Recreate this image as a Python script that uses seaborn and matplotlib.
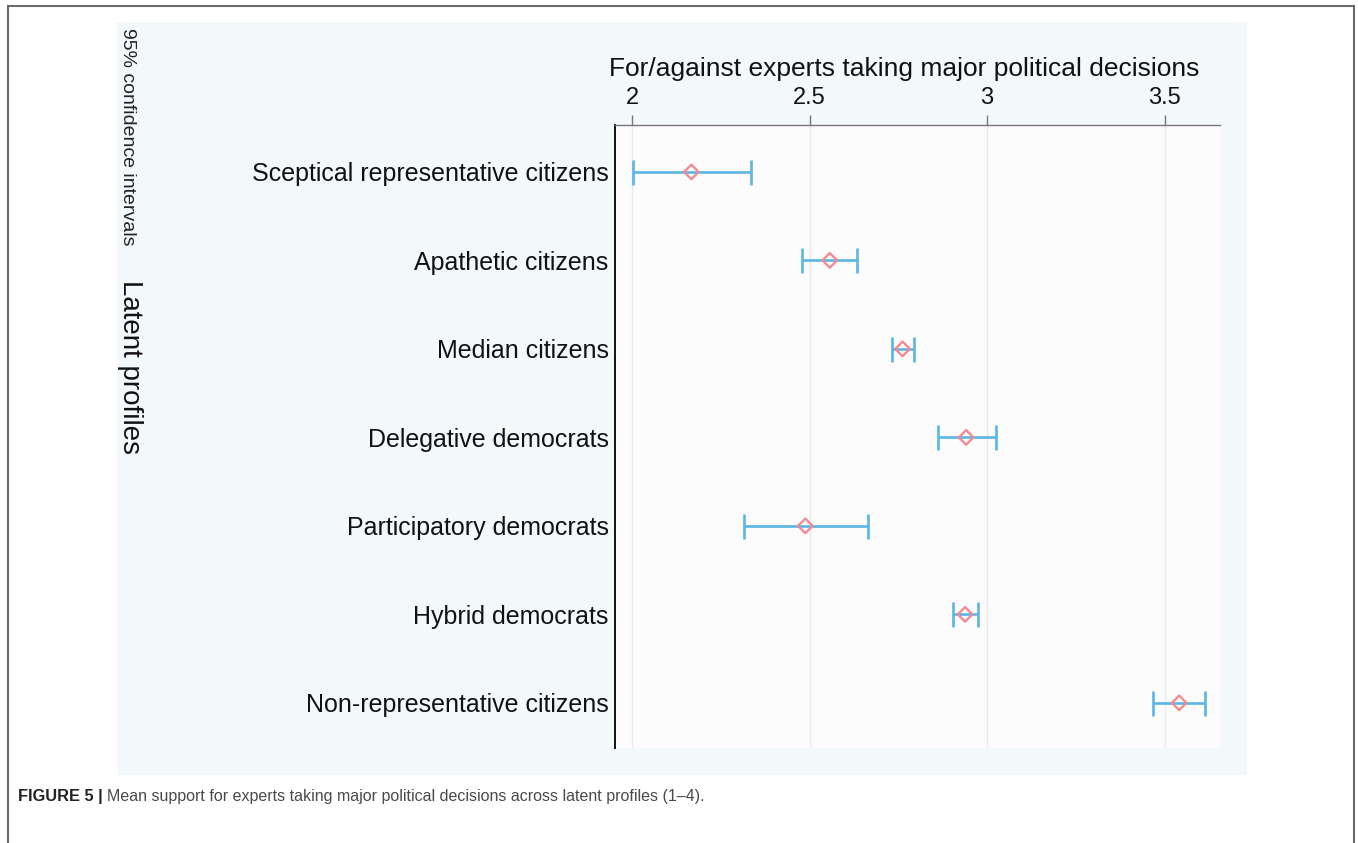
import matplotlib
matplotlib.use('Agg')
import matplotlib.pyplot as plt
from matplotlib.patches import Rectangle
import numpy as np
import pandas as pd
import seaborn as sns

# data
profiles = ['Sceptical representative citizens', 'Apathetic citizens', 'Median citizens',
            'Delegative democrats', 'Participatory democrats', 'Hybrid democrats',
            'Non-representative citizens']
means = [2.167, 2.557, 2.762, 2.941, 2.488, 2.938, 3.541]
ci_low = [2.003, 2.479, 2.731, 2.861, 2.314, 2.904, 3.467]
ci_high = [2.334, 2.633, 2.793, 3.024, 2.664, 2.974, 3.614]
x_ticks = [2, 2.5, 3, 3.5]
x_tick_labels = ['2', '2.5', '3', '3.5']

df = pd.DataFrame({'profile': profiles, 'mean': means, 'lo': ci_low, 'hi': ci_high})

sns.set_theme(style='white')
plt.rcParams['font.family'] = ['Liberation Sans', 'DejaVu Sans']

W, H = 1358, 843
fig = plt.figure(figsize=(W / 100, H / 100), dpi=100)

# outer frame (open at the bottom) and light panel
fig.patches.append(Rectangle((8 / W, -0.2), (1354 - 8) / W, 1.2 - 6 / H,
                             transform=fig.transFigure, fill=False,
                             edgecolor='#6a6a6a', linewidth=1.5, zorder=-2))
fig.patches.append(Rectangle((117 / W, 1 - 775 / H), (1247 - 117) / W, (775 - 22) / H,
                             transform=fig.transFigure, facecolor='#f3f9fa',
                             edgecolor='none', zorder=-1))

ax = fig.add_axes([615 / W, 1 - 748 / H, (1220 - 615) / W, (748 - 125) / H])
ax.set_zorder(1)
ax.set_facecolor('#fcfcfc')

# confidence intervals
ax.errorbar(df['mean'], df['profile'],
            xerr=[df['mean'] - df['lo'], df['hi'] - df['mean']],
            fmt='none', ecolor='#5bb5e6', elinewidth=1.9, capsize=9, capthick=1.9, zorder=2)

# means
sns.scatterplot(data=df, x='mean', y='profile', marker='D', s=55,
                facecolor='none', edgecolor='#f28b90', linewidth=1.7, zorder=3, ax=ax)

ax.set_xlim(1.952, 3.656)
ax.set_ylim(6.51, -0.53)
ax.set_xticks(x_ticks)
ax.set_xticklabels(x_tick_labels)
ax.xaxis.tick_top()
ax.xaxis.set_label_position('top')
ax.set_xlabel('For/against experts taking major political decisions', fontsize=19, color='#111111')
ax.xaxis.set_label_coords(0.478, 1.071)
ax.xaxis.label.set_va('bottom')
ax.set_ylabel('')
ax.tick_params(axis='x', which='both', top=True, bottom=False, length=7.5, width=1,
               color='#777777', labelsize=17, labelcolor='#111111', pad=4)
ax.tick_params(axis='y', left=False, length=0, labelsize=18, labelcolor='#111111', pad=4.5)

ax.grid(axis='x', color='#e9e9e9', linewidth=1)
ax.grid(axis='y', visible=False)
ax.set_axisbelow(True)

for side in ['right', 'bottom']:
    ax.spines[side].set_visible(False)
ax.spines['top'].set_color('#777777')
ax.spines['top'].set_linewidth(1.0)
ax.spines['left'].set_color('#111111')
ax.spines['left'].set_linewidth(1.4)

# rotated side titles
fig.text(127 / W, 1 - 28 / H, '95% confidence intervals', rotation=270,
         ha='center', va='top', fontsize=14, color='#222222')
fig.text(130 / W, 1 - 280 / H, 'Latent profiles', rotation=270,
         ha='center', va='top', fontsize=20, color='#111111')

# caption
cap_y = 1 - 796 / H
t1 = fig.text(18 / W, cap_y, 'FIGURE 5 |', fontsize=11.8, fontweight='bold',
              color='#222222', va='center')
fig.canvas.draw()
bb = t1.get_window_extent()
fig.text((bb.x1 + 4) / W, cap_y,
         'Mean support for experts taking major political decisions across latent profiles (1\u20134).',
         fontsize=11.5, color='#4a4a4a', va='center')

fig.savefig('out.png', dpi=100)
